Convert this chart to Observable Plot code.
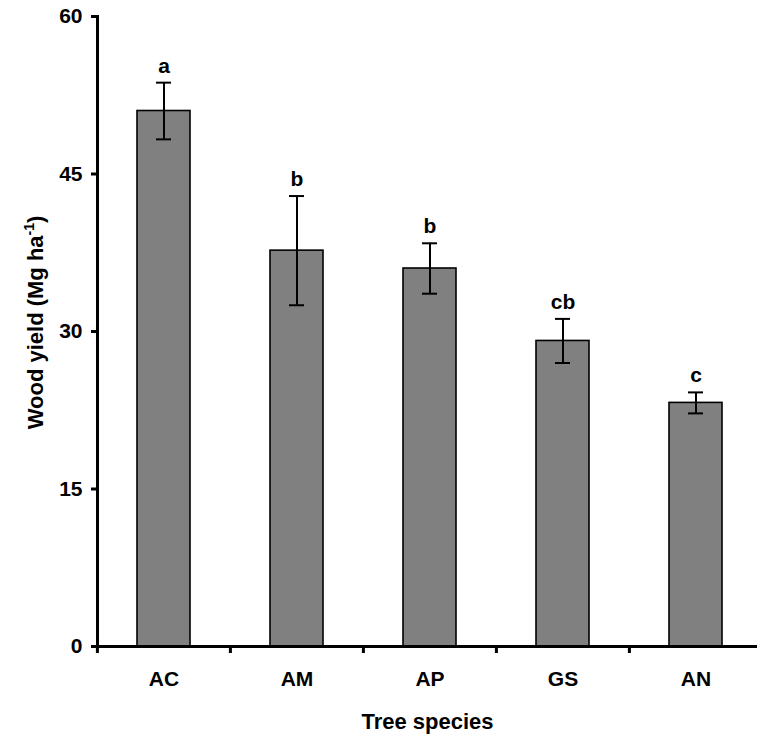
<!DOCTYPE html>
<html>
<head>
<meta charset="utf-8">
<script src="https://cdn.jsdelivr.net/npm/d3@7"></script>
<script src="https://cdn.jsdelivr.net/npm/@observablehq/plot@0.6"></script>
<style>
  html, body { margin: 0; padding: 0; background: #fff; }
  svg { display: block; }
</style>
</head>
<body>
<div id="chart"></div>
<script>
const species = ["AC", "AM", "AP", "GS", "AN"];
const yieldMean = [51.0, 37.7, 36.0, 29.1, 23.2];
const yieldErr = [2.7, 5.2, 2.4, 2.1, 1.0];
const letters = ["a", "b", "b", "cb", "c"];
const yTicks = [0, 15, 30, 45, 60];
const xTitle = "Tree species";
const yTitle = "Wood yield (Mg ha-1)";

const rows = species.map((s, i) => ({
  species: s,
  mean: yieldMean[i],
  lo: yieldMean[i] - yieldErr[i],
  hi: yieldMean[i] + yieldErr[i],
  letter: letters[i]
}));

const W = 757, H = 737;
const mL = 97, mT = 16, mB = 91;
const xRange = [mL, 763];
const step = (xRange[1] - xRange[0]) / species.length;
const font = "'Liberation Sans', Arial, Helvetica, sans-serif";

const chart = Plot.plot({
  width: W,
  height: H,
  marginLeft: mL,
  marginRight: 0,
  marginTop: mT,
  marginBottom: mB,
  style: { fontFamily: font, background: "#fff", color: "#000" },
  x: { type: "band", domain: species, range: xRange, paddingInner: 0.6, paddingOuter: 0.3, label: null },
  y: { domain: [0, 60], label: null },
  marks: [
    Plot.barY(rows, { x: "species", y: "mean", fill: "#808080", stroke: "#000", strokeWidth: 1.6 }),
    Plot.ruleX(rows, { x: "species", y1: "lo", y2: "hi", stroke: "#000", strokeWidth: 2 }),
    Plot.tickY(rows, { x: "species", y: "hi", stroke: "#000", strokeWidth: 2, insetLeft: 19, insetRight: 19 }),
    Plot.tickY(rows, { x: "species", y: "lo", stroke: "#000", strokeWidth: 2, insetLeft: 19, insetRight: 19 }),
    Plot.text(rows, { x: "species", y: "hi", text: "letter", lineAnchor: "bottom", dy: -10, fontSize: 21, fontWeight: "bold", fill: "#000" }),
    Plot.frame({ anchor: "left", stroke: "#000", strokeWidth: 3 }),
    Plot.ruleY([0], { stroke: "#000", strokeWidth: 3 }),
    Plot.axisY({ ticks: yTicks, tickSize: 6, tickPadding: 9, strokeWidth: 3, fontSize: 21, fontWeight: "bold", fill: "#000", stroke: "#000", label: null }),
    Plot.axisX({ tickSize: 7, tickFormat: () => "", dx: -step / 2, strokeWidth: 3, stroke: "#000", label: null }),
    Plot.text(rows, { x: "species", text: "species", frameAnchor: "bottom", lineAnchor: "bottom", dy: 39, fontSize: 21, fontWeight: "bold", fill: "#000" }),
    Plot.text([xTitle], { text: d => d, frameAnchor: "bottom", lineAnchor: "bottom", dy: 82, fontSize: 22, fontWeight: "bold", fill: "#000" }),
    Plot.text([yTitle], { text: d => d, frameAnchor: "left", rotate: -90, textAnchor: "middle", lineAnchor: "bottom", dx: -55, dy: -9, fontSize: 22, fontWeight: "bold", fill: "#000" })
  ]
});

// superscript for the unit in the y title
chart.querySelectorAll("text").forEach(t => {
  if (t.textContent === yTitle) {
    t.textContent = "";
    const ns = "http://www.w3.org/2000/svg";
    const a = document.createElementNS(ns, "tspan");
    a.textContent = "Wood yield (Mg ha";
    const b = document.createElementNS(ns, "tspan");
    b.textContent = "-1";
    b.setAttribute("font-size", "14");
    b.setAttribute("dy", "-9");
    const c = document.createElementNS(ns, "tspan");
    c.textContent = ")";
    c.setAttribute("dy", "9");
    t.appendChild(a); t.appendChild(b); t.appendChild(c);
  }
});

document.getElementById("chart").appendChild(chart);
</script>
</body>
</html>
